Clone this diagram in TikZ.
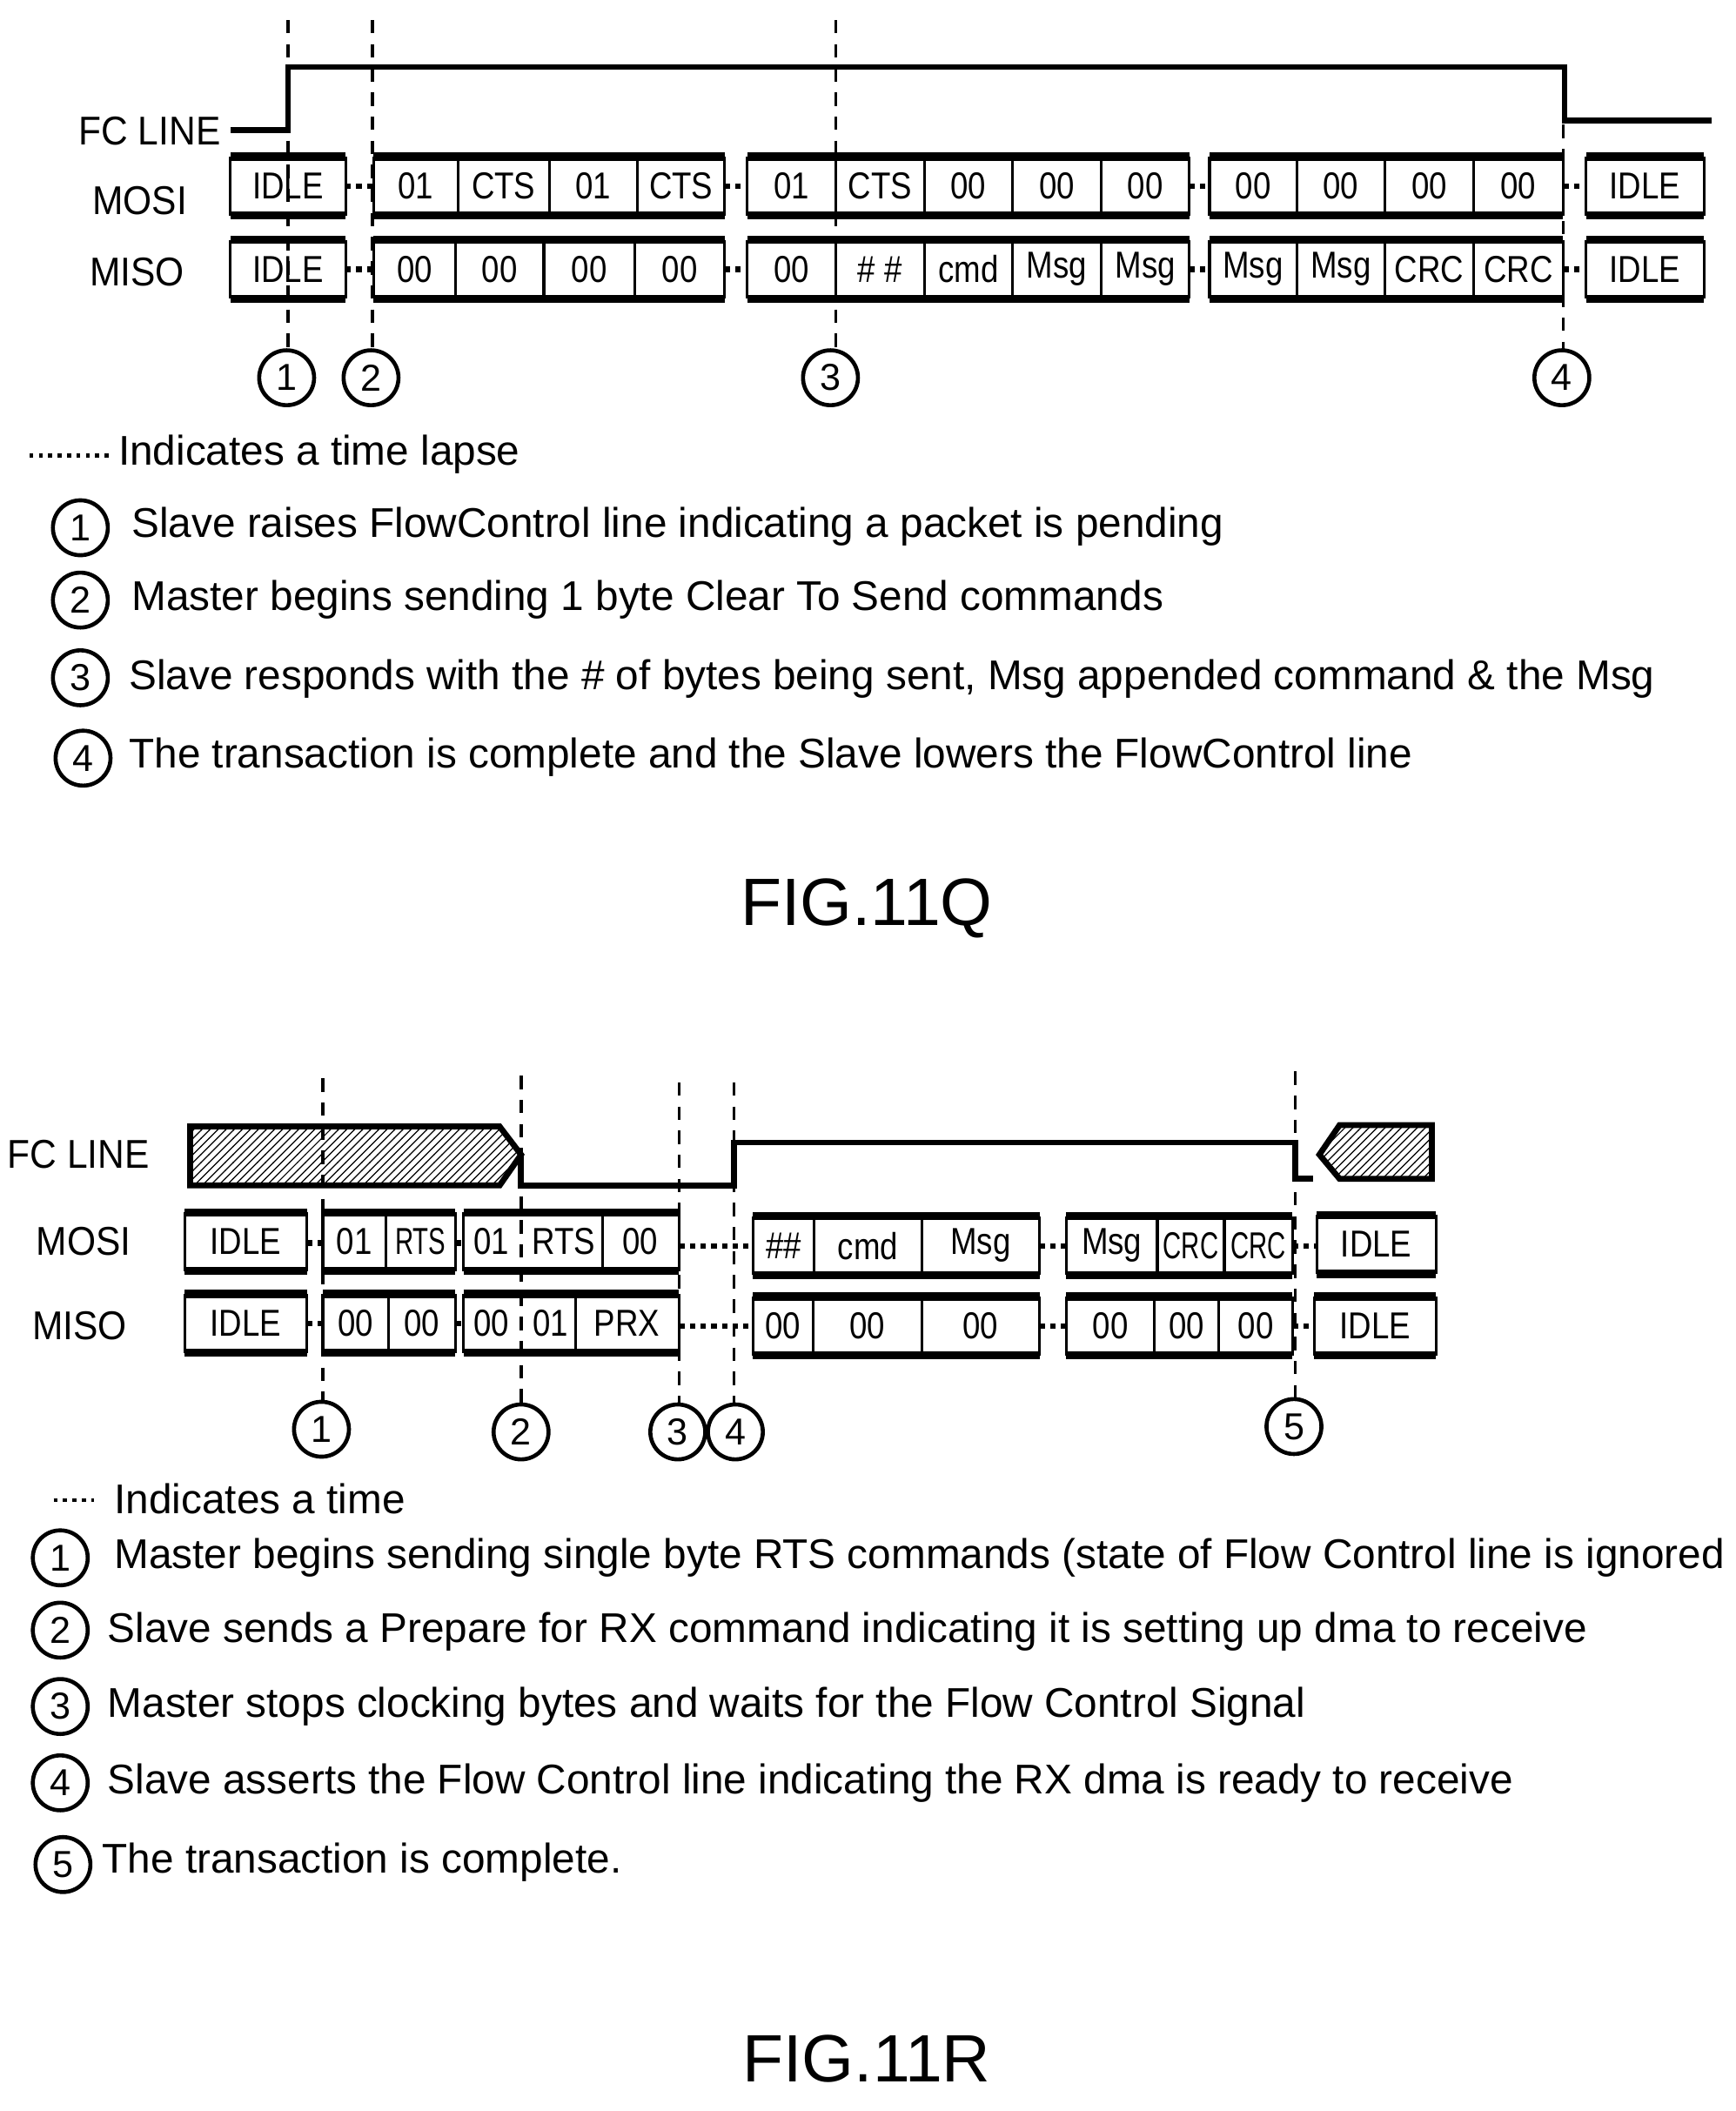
\documentclass[tikz,border=0pt]{standalone}
\usepackage{fontspec}
\setmainfont{Liberation Sans}
\usetikzlibrary{patterns}
\newcommand\seg[4]{\draw[line width=1] (#1,#3-21) rectangle (#2,#3+21); \node[lbl] at ({(#1+#2)/2},#3) {#4};}
\newcommand\thk[3]{\draw[line width=3] (#1,#3-22)--(#2,#3-22) (#1,#3+22)--(#2,#3+22);}
\newcommand\gap[3]{\draw[dotted,line width=2] (#1,#3)--(#2,#3);}
\newcommand\num[3]{\node[circle,draw,line width=1.5,minimum size=20.5pt,inner sep=0,font=\fontsize{14}{14}\selectfont] at (#1,#2) {#3};}
\begin{document}
\begin{tikzpicture}[x=0.5pt,y=-0.5pt,
 lbl/.style={font=\fontsize{14}{17}\selectfont,inner sep=0,xscale=0.85},
 row/.style={font=\fontsize{15}{17}\selectfont,inner sep=0,xscale=0.92,anchor=east},
 txt/.style={font=\fontsize{15.5}{18}\selectfont,anchor=west,inner sep=0},
 dsh/.style={dashed,line width=1.2,dash pattern=on 5pt off 4pt},
 sig/.style={line width=2.2}]
\useasboundingbox (0,0) rectangle (1296,1576);
% ===== FIG 11Q =====
\node[row] at (165,98) {FC LINE};
\node[row] at (140,150) {MOSI};
\node[row] at (138,203) {MISO};
\draw[sig] (172,97)--(215,97)--(215,50)--(1168,50)--(1168,90)--(1278,90);
\foreach \x/\a/\b in {215/15/262, 278/15/262, 624/15/264, 1167/75/262} \draw[dsh] (\x,\a)--(\x,\b);
% MOSI
\seg{172}{258}{139}{IDLE}\thk{172}{258}{139}
\seg{279}{342}{139}{01}\seg{342}{410}{139}{CTS}\seg{410}{476}{139}{01}\seg{476}{541}{139}{CTS}\thk{279}{541}{139}
\seg{558}{624}{139}{01}\seg{624}{690}{139}{CTS}\seg{690}{756}{139}{00}\seg{756}{822}{139}{00}\seg{822}{888}{139}{00}\thk{558}{888}{139}
\seg{903}{968}{139}{00}\seg{968}{1034}{139}{00}\seg{1034}{1100}{139}{00}\seg{1100}{1167}{139}{00}\thk{903}{1167}{139}
\seg{1184}{1272}{139}{IDLE}\thk{1184}{1272}{139}
\gap{258}{279}{139}\gap{541}{558}{139}\gap{888}{903}{139}\gap{1167}{1184}{139}
% MISO
\seg{172}{258}{201}{IDLE}\thk{172}{258}{201}
\seg{279}{340}{201}{00}\seg{340}{406}{201}{00}\seg{406}{474}{201}{00}\seg{474}{541}{201}{00}\thk{279}{541}{201}
\seg{558}{624}{201}{00}\seg{624}{690}{201}{\# \#}\seg{690}{756}{201}{cmd}\seg{756}{822}{201}{Msg}\seg{822}{888}{201}{Msg}\thk{558}{888}{201}
\seg{903}{968}{201}{Msg}\seg{968}{1034}{201}{Msg}\seg{1034}{1100}{201}{CRC}\seg{1100}{1167}{201}{CRC}\thk{903}{1167}{201}
\seg{1184}{1272}{201}{IDLE}\thk{1184}{1272}{201}
\gap{258}{279}{201}\gap{541}{558}{201}\gap{888}{903}{201}\gap{1167}{1184}{201}
\num{214}{282}{1}\num{277}{282}{2}\num{620}{282}{3}\num{1166}{282}{4}
\draw[dotted,line width=1.5] (22,340)--(84,340);
\node[txt] at (88,339) {Indicates a time lapse};
\num{60}{394}{1}\node[txt] at (98,393) {Slave raises FlowControl line indicating a packet is pending};
\num{60}{448}{2}\node[txt] at (98,448) {Master begins sending 1 byte Clear To Send commands};
\num{60}{506}{3}\node[txt] at (96,507) {Slave responds with the \# of bytes being sent, Msg appended command \& the Msg};
\num{62}{566}{4}\node[txt] at (96,565) {The transaction is complete and the Slave lowers the FlowControl line};
\node[font=\fontsize{25}{30}\selectfont] at (647,678) {FIG.11Q};
% ===== FIG 11R =====
\node[row] at (112,862) {FC LINE};
\node[row] at (98,927) {MOSI};
\node[row] at (95,990) {MISO};
\draw[sig,pattern=north east lines] (142,841)--(373,841)--(389,862)--(373,885)--(142,885)--cycle;
\draw[sig] (389,862)--(389,885)--(548,885)--(548,853)--(967,853)--(967,880)--(980,880);
\draw[sig,pattern=north east lines] (1069,840)--(1000,840)--(985,862)--(1000,880)--(1069,880)--cycle;
\foreach \x/\a/\b in {241/805/1046, 389/803/1048, 507/808/1048, 548/808/1048, 967/800/1045} \draw[dsh] (\x,\a)--(\x,\b);
% MOSI
\seg{138}{229}{927}{IDLE}\thk{138}{229}{927}
\seg{241}{288}{927}{01}\seg{288}{340}{927}{\scalebox{0.8}[1]{RTS}}\thk{241}{340}{927}
\draw[line width=1] (346,906) rectangle (450,948) (450,906) rectangle (507,948);
\node[lbl] at (367,927) {01};\node[lbl] at (421,927) {RTS};\node[lbl] at (478,927) {00};\thk{346}{507}{927}
\seg{562}{608}{930}{\#\#}\seg{608}{688}{930}{cmd}\seg{688}{776}{930}{Msg}\thk{562}{776}{930}
\seg{796}{864}{930}{Msg}\seg{864}{914}{930}{\scalebox{0.8}[1]{CRC}}\seg{914}{965}{930}{\scalebox{0.8}[1]{CRC}}\thk{796}{965}{930}
\seg{983}{1072}{929}{IDLE}\thk{983}{1072}{929}
\gap{229}{241}{928}\gap{340}{346}{928}\gap{507}{562}{930}\gap{776}{796}{930}\gap{965}{983}{930}
% MISO
\seg{138}{229}{988}{IDLE}\thk{138}{229}{988}
\seg{241}{290}{988}{00}\seg{290}{340}{988}{00}\thk{241}{340}{988}
\draw[line width=1] (346,967) rectangle (430,1009) (430,967) rectangle (507,1009);
\node[lbl] at (367,988) {00};\node[lbl] at (411,988) {01};\node[lbl] at (468,988) {PRX};\thk{346}{507}{988}
\seg{562}{607}{990}{00}\seg{607}{688}{990}{00}\seg{688}{776}{990}{00}\thk{562}{776}{990}
\seg{796}{862}{990}{00}\seg{862}{910}{990}{00}\seg{910}{965}{990}{00}\thk{796}{965}{990}
\seg{981}{1072}{990}{IDLE}\thk{981}{1072}{990}
\gap{229}{241}{988}\gap{340}{346}{988}\gap{507}{562}{990}\gap{776}{796}{990}\gap{965}{981}{990}
\num{240}{1067}{1}\num{389}{1069}{2}\num{506}{1069}{3}\num{549}{1069}{4}\num{966}{1065}{5}
\draw[dotted,line width=1.5] (40,1120)--(70,1120);
\node[txt] at (85,1119) {Indicates a time};
\num{45}{1163}{1}\node[txt] at (85,1163) {Master begins sending single byte RTS commands (state of Flow Control line is ignored};
\num{45}{1217}{2}\node[txt] at (80,1218) {Slave sends a Prepare for RX command indicating it is setting up dma to receive};
\num{45}{1274}{3}\node[txt] at (80,1274) {Master stops clocking bytes and waits for the Flow Control Signal};
\num{45}{1331}{4}\node[txt] at (80,1331) {Slave asserts the Flow Control line indicating the RX dma is ready to receive};
\num{47}{1392}{5}\node[txt] at (76,1390) {The transaction is complete.};
\node[font=\fontsize{25}{30}\selectfont] at (647,1537) {FIG.11R};
\end{tikzpicture}
\end{document}
